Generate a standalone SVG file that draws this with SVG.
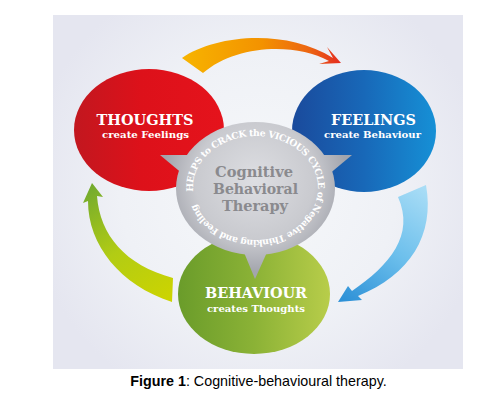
<svg xmlns="http://www.w3.org/2000/svg" width="492" height="403" viewBox="0 0 492 403">
<defs>
<radialGradient id="bg" cx="258" cy="190" r="230" gradientUnits="userSpaceOnUse">
<stop offset="0" stop-color="#f6f8fa"/><stop offset="0.6" stop-color="#eff1f6"/><stop offset="1" stop-color="#e5e6f0"/>
</radialGradient>
<linearGradient id="gRed" x1="0" y1="0" x2="1" y2="0">
<stop offset="0" stop-color="#c2171f"/><stop offset="0.45" stop-color="#dd111a"/><stop offset="1" stop-color="#e5131c"/>
</linearGradient>
<linearGradient id="gBlue" x1="0" y1="0" x2="1" y2="0">
<stop offset="0" stop-color="#1a4a9c"/><stop offset="0.5" stop-color="#1868b8"/><stop offset="1" stop-color="#1690d6"/>
</linearGradient>
<linearGradient id="gGreen" x1="0" y1="0" x2="1" y2="0">
<stop offset="0" stop-color="#6a9c2a"/><stop offset="0.5" stop-color="#8bb236"/><stop offset="1" stop-color="#b8cd4a"/>
</linearGradient>
<radialGradient id="gGray" cx="255" cy="180" r="92" gradientUnits="userSpaceOnUse">
<stop offset="0" stop-color="#dddee2"/><stop offset="0.65" stop-color="#c9cacf"/><stop offset="1" stop-color="#a3a5ad"/>
</radialGradient>
<linearGradient id="gOrange" x1="182" y1="0" x2="342" y2="0" gradientUnits="userSpaceOnUse">
<stop offset="0" stop-color="#f7b400"/><stop offset="0.5" stop-color="#f39200"/><stop offset="0.8" stop-color="#ec6412"/><stop offset="1" stop-color="#e42a21"/>
</linearGradient>
<linearGradient id="gSky" x1="420" y1="185" x2="340" y2="302" gradientUnits="userSpaceOnUse">
<stop offset="0" stop-color="#a9ddf6"/><stop offset="0.5" stop-color="#6cbfec"/><stop offset="1" stop-color="#2b8fd6"/>
</linearGradient>
<linearGradient id="gLime" x1="172" y1="300" x2="92" y2="183" gradientUnits="userSpaceOnUse">
<stop offset="0" stop-color="#cdd400"/><stop offset="0.5" stop-color="#b2cc14"/><stop offset="1" stop-color="#72aa2e"/>
</linearGradient>
<path id="ring" d="M193.15,191.6 A62.5,52 0 0 1 317.85,184.4 A62.5,52 0 0 1 193.15,191.6"/>
</defs>
<style>
.title{font-family:"DejaVu Serif",serif;font-weight:bold;fill:#ffffff;text-anchor:middle}
.big{font-size:15.5px}
.sub{font-size:10px}
.core{font-family:"DejaVu Serif",serif;font-weight:bold;fill:#8a8a8e;font-size:15.5px;text-anchor:middle}
.ringtxt{font-family:"DejaVu Serif",serif;font-weight:bold;fill:#ffffff;font-size:9.2px}
.cap{font-family:"Liberation Sans",Arial,sans-serif;font-size:14.3px;fill:#000000;text-anchor:middle}
</style>
<rect x="53" y="15" width="410" height="354" fill="url(#bg)"/>
<g id="connectors">
<path d="M182,58 C215,35 285,28 333,58 L327,47 L341,63 L319,64 L329,61 C295,42 235,45 203,73 Z" fill="url(#gOrange)"/>
<path d="M398,197 L426,185 C435,235 410,275 358,296 L362,300 L338,302 L348,286 L352,291 C390,265 415,235 398,197 Z" fill="url(#gSky)"/>
<path d="M172,302 C120,285 88,245 88,201 L83,203 L92,183 L103,197 L97,196 C100,235 125,265 173,278 Z" fill="url(#gLime)"/>
</g>
<g id="thoughts">
<ellipse cx="149" cy="130" rx="75" ry="61" fill="url(#gRed)"/>
<text class="title big" x="145" y="125" textLength="97" lengthAdjust="spacingAndGlyphs">THOUGHTS</text>
<text class="title sub" x="145.5" y="138" textLength="87" lengthAdjust="spacingAndGlyphs">create Feelings</text>
</g>
<g id="feelings">
<ellipse cx="364" cy="131" rx="72" ry="61" fill="url(#gBlue)"/>
<text class="title big" x="373.5" y="125" textLength="85" lengthAdjust="spacingAndGlyphs">FEELINGS</text>
<text class="title sub" x="372.5" y="138" textLength="97" lengthAdjust="spacingAndGlyphs">create Behaviour</text>
</g>
<g id="behaviour">
<ellipse cx="254" cy="294" rx="76" ry="60" fill="url(#gGreen)"/>
<text class="title big" x="256" y="298" textLength="102" lengthAdjust="spacingAndGlyphs">BEHAVIOUR</text>
<text class="title sub" x="256" y="312" textLength="98" lengthAdjust="spacingAndGlyphs">creates Thoughts</text>
</g>
<g id="cbt">
<path d="M160,155 L200,155 L190,180 Z" fill="url(#gGray)"/>
<path d="M352,155 L312,155 L322,180 Z" fill="url(#gGray)"/>
<path d="M243,250 L268,250 L255,279 Z" fill="url(#gGray)"/>
<ellipse cx="255.5" cy="188.5" rx="79.5" ry="66.5" fill="url(#gGray)"/>
<text class="core" x="254" y="177" textLength="78" lengthAdjust="spacingAndGlyphs">Cognitive</text>
<text class="core" x="255.5" y="194" textLength="85" lengthAdjust="spacingAndGlyphs">Behavioral</text>
<text class="core" x="255" y="211" textLength="66" lengthAdjust="spacingAndGlyphs">Therapy</text>
<text class="ringtxt"><textPath href="#ring" textLength="347" lengthAdjust="spacing">HELPS to CRACK the VICIOUS CYCLE of Negative Thinking and Feeling</textPath></text>
</g>
<text class="cap" x="258.5" y="386"><tspan font-weight="bold">Figure 1</tspan>: Cognitive-behavioural therapy.</text>
</svg>
